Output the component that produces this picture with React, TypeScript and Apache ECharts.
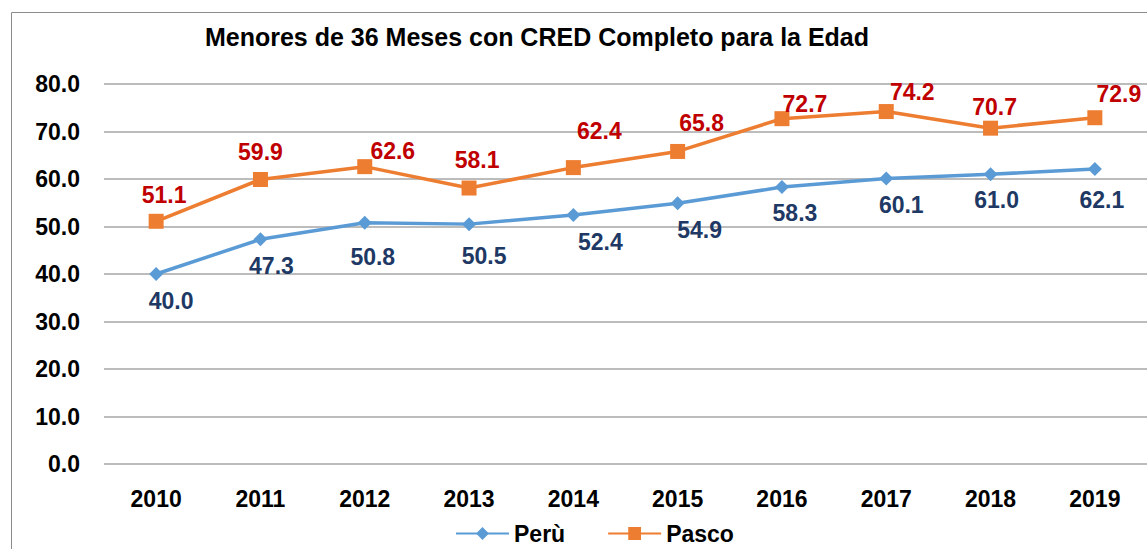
import React, { useEffect, useRef } from "react";
import * as echarts from "echarts";

const TITLE = "Menores de 36 Meses con CRED Completo para la Edad";
const YEARS = ["2010", "2011", "2012", "2013", "2014", "2015", "2016", "2017", "2018", "2019"];
const PERU = [40.0, 47.3, 50.8, 50.5, 52.4, 54.9, 58.3, 60.1, 61.0, 62.1];
const PASCO = [51.1, 59.9, 62.6, 58.1, 62.4, 65.8, 72.7, 74.2, 70.7, 72.9];
const SERIES_NAMES = ["Perù", "Pasco"];

// label nudges (layout only), relative to each point
const PERU_LABEL_NUDGE = [[15, 27], [11, 27], [8, 34], [15, 32], [27, 27], [22, 27], [13, 26], [15, 26], [6, 26], [7, 31]];
const PASCO_LABEL_NUDGE = [[8, -26], [0, -27], [28, -16], [8, -28], [26, -37], [24, -28], [23, -15], [26, -20], [4, -21], [24, -24]];

const FONT = "'Liberation Sans', Arial, sans-serif";

export default function App() {
  const ref = useRef<HTMLDivElement>(null);
  useEffect(() => {
    if (!ref.current) return;
    const chart = echarts.init(ref.current, null, { renderer: "svg" });
    const mk = (vals: number[], nudges: number[][]) =>
      vals.map((v, i) => ({ value: v, label: { offset: nudges[i] } }));
    chart.setOption({
      animation: false,
      backgroundColor: "#ffffff",
      textStyle: { fontFamily: FONT },
      title: {
        text: TITLE,
        left: 532,
        top: 19,
        textAlign: "center",
        textStyle: { fontFamily: FONT, fontWeight: "bold", fontSize: 25, color: "#000" },
      },
      graphic: [
        {
          type: "rect",
          z: -1,
          shape: { x: 11.5, y: 12.5, width: 1300, height: 700 },
          style: { fill: "none", stroke: "#8c8c8c", lineWidth: 1 },
        },
      ],
      legend: {
        left: 455,
        top: 522,
        padding: 0,
        itemWidth: 53,
        itemHeight: 16,
        itemGap: 42,
        data: SERIES_NAMES,
        textStyle: { fontFamily: FONT, fontWeight: "bold", fontSize: 23, color: "#000" },
      },
      grid: { left: 104, right: -11, top: 84, bottom: 85, containLabel: false },
      xAxis: {
        type: "category",
        data: YEARS,
        boundaryGap: true,
        axisLine: { show: false },
        axisTick: { show: false },
        axisLabel: { margin: 23, fontFamily: FONT, fontWeight: "bold", fontSize: 23, color: "#000" },
      },
      yAxis: {
        type: "value",
        min: 0,
        max: 80,
        interval: 10,
        axisLine: { show: false },
        axisTick: { show: false },
        splitLine: { lineStyle: { color: "#a6a6a6", width: 1.5 } },
        axisLabel: {
          margin: 24,
          fontFamily: FONT,
          fontWeight: "bold",
          fontSize: 23,
          color: "#000",
          formatter: (v: number) => v.toFixed(1),
        },
      },
      series: [
        {
          name: SERIES_NAMES[0],
          type: "line",
          data: mk(PERU, PERU_LABEL_NUDGE),
          symbol: "diamond",
          symbolSize: 14,
          lineStyle: { color: "#5b9bd5", width: 3.5 },
          itemStyle: { color: "#5b9bd5" },
          label: {
            show: true,
            position: "inside",
            formatter: (p: any) => Number(p.value).toFixed(1),
            fontFamily: FONT,
            fontWeight: "bold",
            fontSize: 23,
            color: "#203864",
          },
        },
        {
          name: SERIES_NAMES[1],
          type: "line",
          data: mk(PASCO, PASCO_LABEL_NUDGE),
          symbol: "rect",
          symbolSize: 15,
          lineStyle: { color: "#ed7d31", width: 3.5 },
          itemStyle: { color: "#ed7d31" },
          label: {
            show: true,
            position: "inside",
            formatter: (p: any) => Number(p.value).toFixed(1),
            fontFamily: FONT,
            fontWeight: "bold",
            fontSize: 23,
            color: "#c00000",
          },
        },
      ],
    });
    return () => chart.dispose();
  }, []);
  return (
    <div
      ref={ref}
      style={{ position: "absolute", left: 0, top: 0, width: 1147, height: 549, background: "#fff" }}
    />
  );
}
